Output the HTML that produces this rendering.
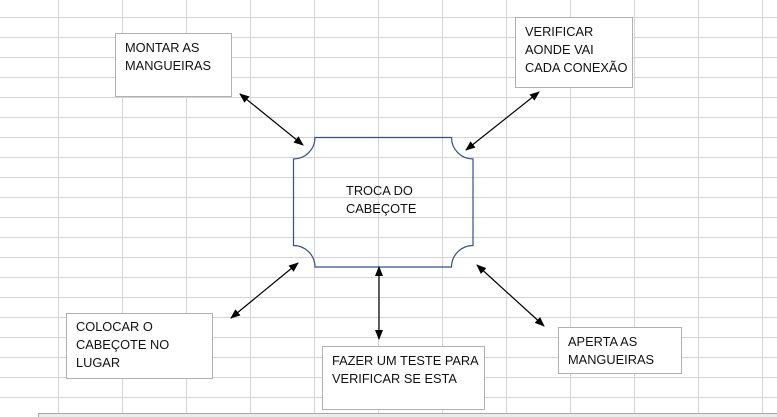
<!DOCTYPE html>
<html><head><meta charset="utf-8"><style>
html,body{margin:0;padding:0;background:#fff;width:777px;height:417px;overflow:hidden}
svg{display:block}
text{font-family:"Liberation Sans",sans-serif;font-size:12.8px;fill:#111}
</style></head><body>
<svg width="777" height="417" viewBox="0 0 777 417" xmlns="http://www.w3.org/2000/svg">
<defs>
<marker id="a" markerWidth="10" markerHeight="8" refX="9" refY="4" orient="auto-start-reverse" markerUnits="userSpaceOnUse">
<path d="M0,0 L10,4 L0,8 z" fill="#000"/></marker>
</defs>
<g stroke="#d4d4d4" stroke-width="1">
<path d="M58.5 0V417M122.5 0V417M186.5 0V417M250.5 0V417M314.5 0V417M378.5 0V417M442.5 0V417M506.5 0V417M570.5 0V417M634.5 0V417M698.5 0V417M762.5 0V417"/>
<path d="M0 17.5H777M0 37.5H777M0 57.5H777M0 77.5H777M0 97.5H777M0 117.5H777M0 137.5H777M0 157.5H777M0 177.5H777M0 197.5H777M0 217.5H777M0 237.5H777M0 257.5H777M0 277.5H777M0 297.5H777M0 317.5H777M0 337.5H777M0 357.5H777M0 377.5H777M0 397.5H777"/>
</g>
<rect x="38.5" y="413.5" width="745" height="10" fill="#ececec" stroke="#a8a8a8"/>
<path d="M315 137.5 H451.5 A21.5 21.5 0 0 0 473 159 V245.5 A21.5 21.5 0 0 0 451.5 267 H315 A21.5 21.5 0 0 0 293.5 245.5 V159 A21.5 21.5 0 0 0 315 137.5 Z" fill="none" stroke="#2f528f" stroke-width="1.2"/>
<text x="346" y="195">TROCA DO</text><text x="346" y="213">CABEÇOTE</text>
<g fill="#fff" stroke="#b0b0b0">
<rect x="115.5" y="33.5" width="116" height="63"/>
<rect x="515.5" y="17.5" width="117" height="70"/>
<rect x="66.5" y="313.5" width="146" height="65"/>
<rect x="322.5" y="346.5" width="162" height="63"/>
<rect x="558.5" y="327.5" width="123" height="46"/>
</g>
<text x="125" y="52">MONTAR  AS</text><text x="125" y="70">MANGUEIRAS</text>
<text x="525" y="36">VERIFICAR</text><text x="525" y="54">AONDE VAI</text><text x="525" y="72">CADA CONEXÃO</text>
<text x="76" y="331">COLOCAR O</text><text x="76" y="349">CABEÇOTE NO</text><text x="76" y="367">LUGAR</text>
<text x="332" y="365">FAZER UM TESTE PARA</text><text x="332" y="383">VERIFICAR SE ESTA</text>
<text x="568" y="346">APERTA AS</text><text x="568" y="364">MANGUEIRAS</text>
<g stroke="#000" stroke-width="1.2" marker-start="url(#a)" marker-end="url(#a)">
<line x1="240" y1="94" x2="303" y2="145"/>
<line x1="539" y1="92" x2="466" y2="150"/>
<line x1="298" y1="263" x2="231" y2="318"/>
<line x1="379" y1="267" x2="379" y2="339"/>
<line x1="477" y1="265" x2="544" y2="326"/>
</g>
</svg>
</body></html>
